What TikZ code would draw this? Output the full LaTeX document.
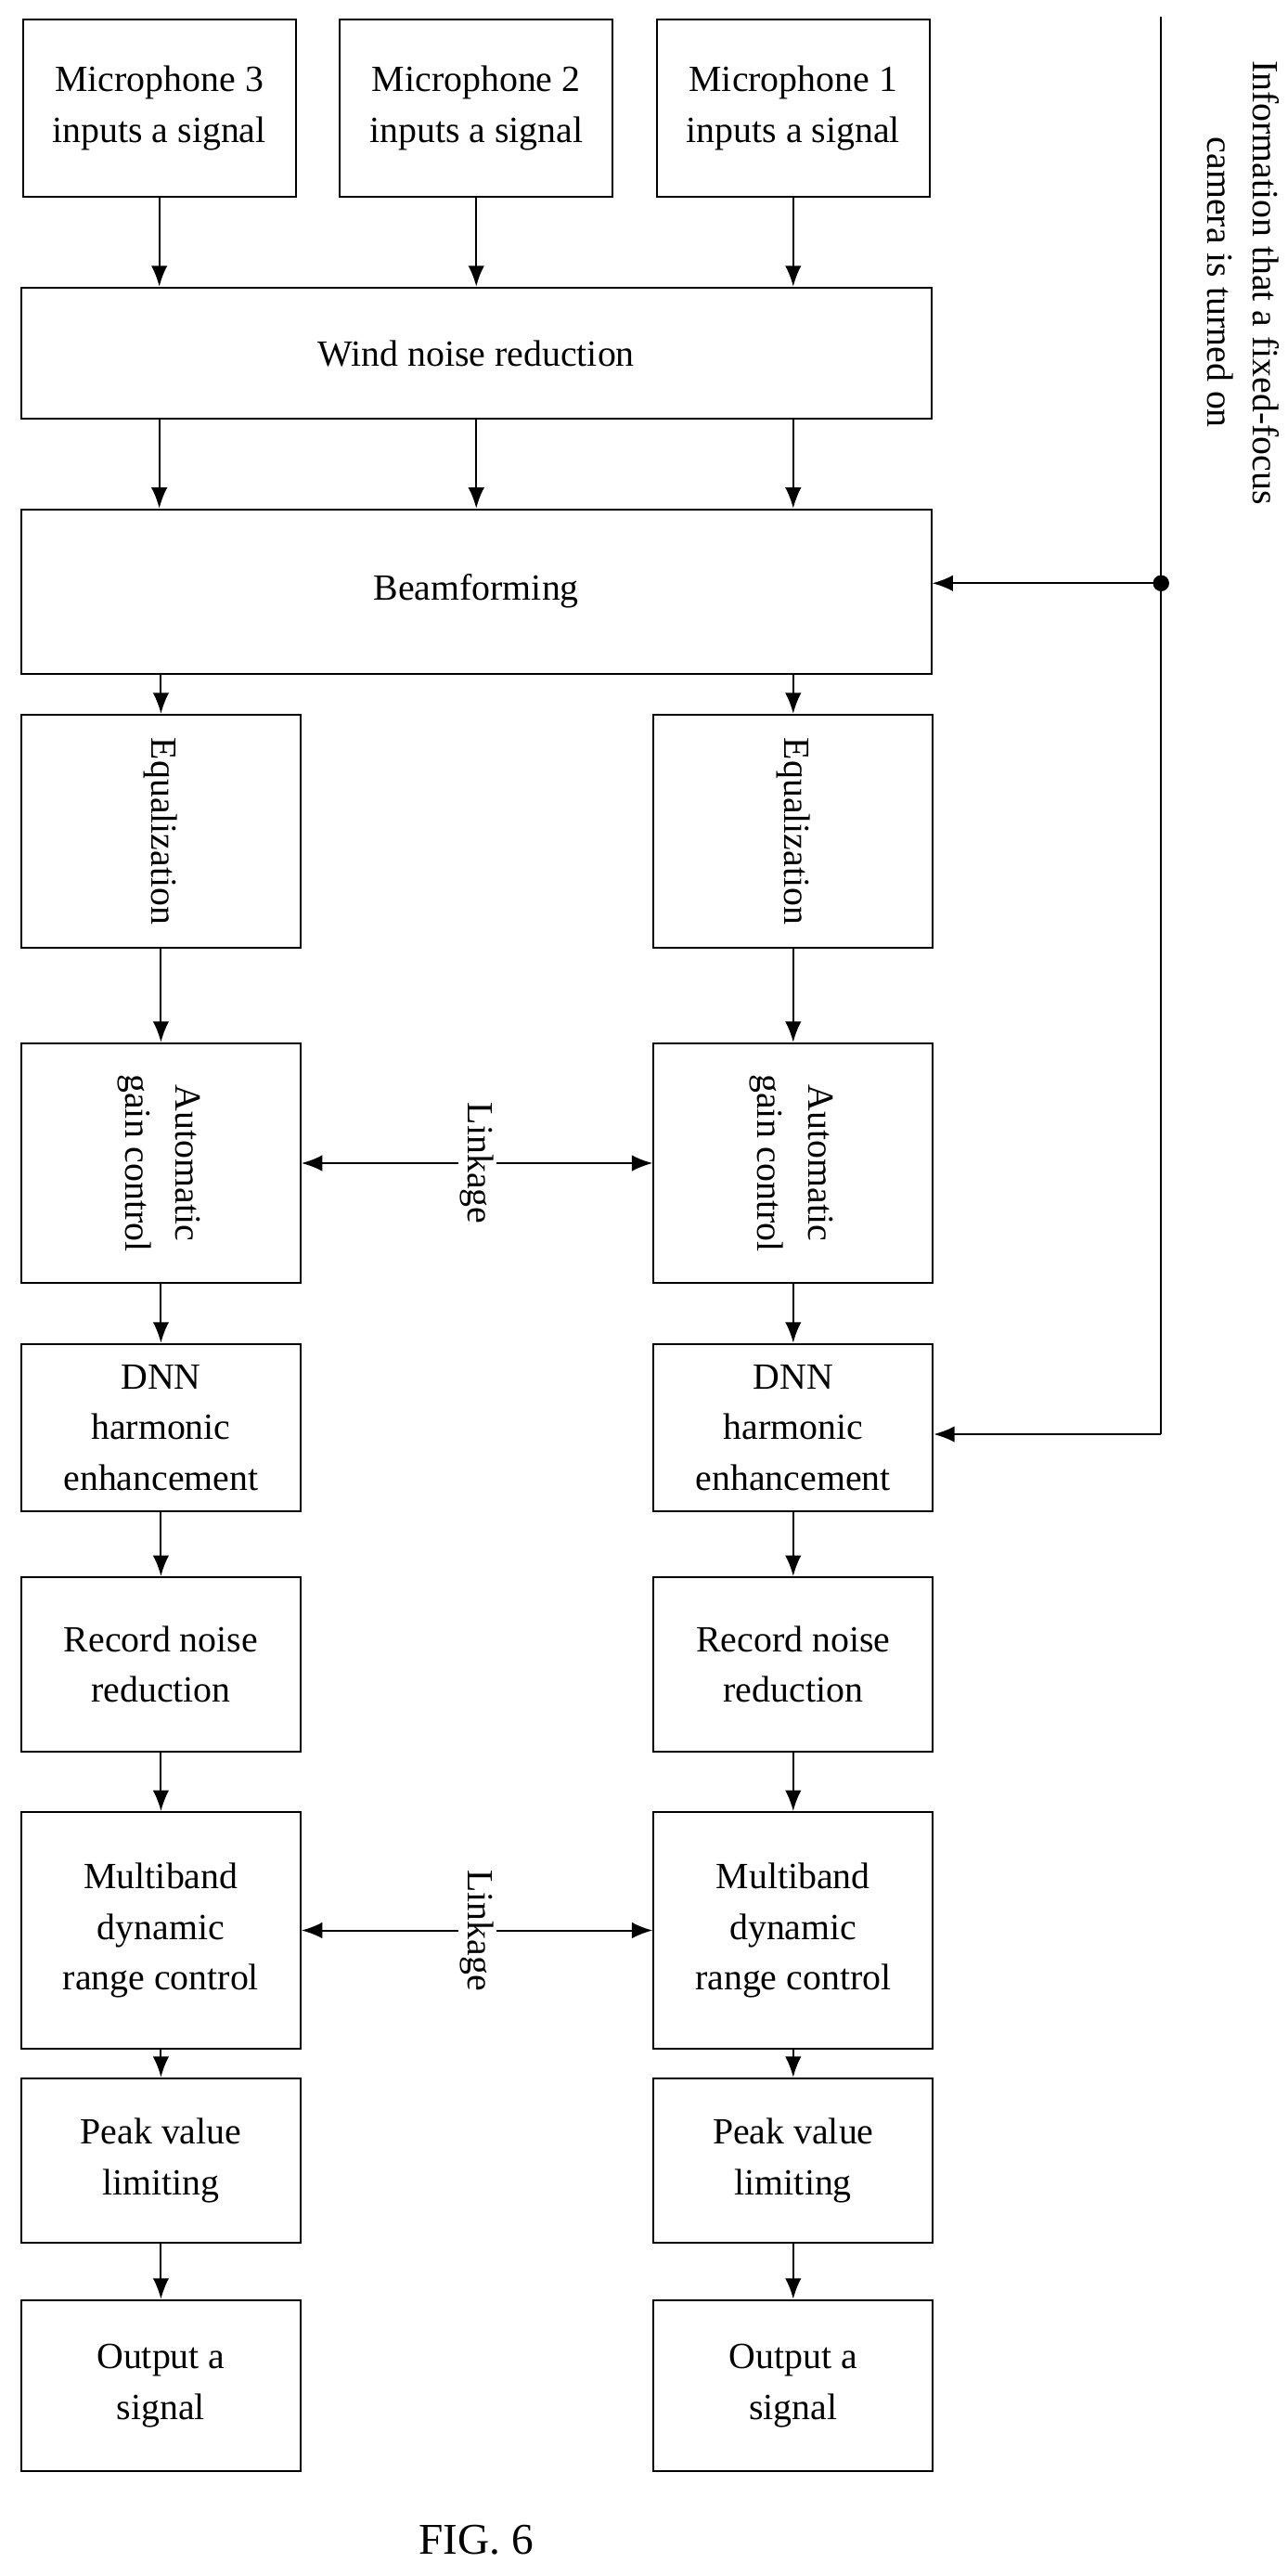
\documentclass[tikz,border=0pt]{standalone}
\usepackage{fontspec}
\setmainfont{Liberation Serif}
\usetikzlibrary{arrows.meta}
\begin{document}
\begin{tikzpicture}[x=0.025cm,y=-0.025cm,
	blk/.style={draw,thick,align=center,inner sep=2pt,font=\fontsize{16}{22}\selectfont},
	arr/.style={thick,-{Latex[length=9pt,width=7pt]}},
	both/.style={thick,{Latex[length=9pt,width=7pt]}-{Latex[length=9pt,width=7pt]}}]
	\useasboundingbox (0,0) rectangle (784,1568);
	% top row
	\node[blk,minimum width=4.15cm,minimum height=2.7cm] (mic3) at (97,66) {Microphone 3\\inputs a signal};
	\node[blk,minimum width=4.15cm,minimum height=2.7cm] (mic2) at (290,66) {Microphone 2\\inputs a signal};
	\node[blk,minimum width=4.15cm,minimum height=2.7cm] (mic1) at (483,66) {Microphone 1\\inputs a signal};
	\node[blk,minimum width=13.85cm,minimum height=2cm] (wind) at (290,215) {Wind noise reduction};
	\node[blk,minimum width=13.85cm,minimum height=2.5cm] (beam) at (290,360) {Beamforming};
	% two columns
	\foreach \s/\cx in {l/98,r/483}{
		\node[blk,minimum width=4.25cm,minimum height=3.55cm] (eq\s) at (\cx,506) {\rotatebox{-90}{Equalization}};
		\node[blk,minimum width=4.25cm,minimum height=3.65cm] (agc\s) at (\cx,708) {\rotatebox{-90}{\begin{tabular}{c}Automatic\\gain control\end{tabular}}};
		\node[blk,minimum width=4.25cm,minimum height=2.55cm] (dnn\s) at (\cx,869) {DNN\\harmonic\\enhancement};
		\node[blk,minimum width=4.25cm,minimum height=2.65cm] (rec\s) at (\cx,1013) {Record noise\\reduction};
		\node[blk,minimum width=4.25cm,minimum height=3.6cm] (mbc\s) at (\cx,1175) {Multiband\\dynamic\\range control};
		\node[blk,minimum width=4.25cm,minimum height=2.5cm] (pk\s) at (\cx,1315) {Peak value\\limiting};
		\node[blk,minimum width=4.25cm,minimum height=2.6cm] (out\s) at (\cx,1452) {Output a\\signal};
		\draw[arr] (beam.south -| eq\s) -- (eq\s);
		\draw[arr] (eq\s) -- (agc\s);
		\draw[arr] (agc\s) -- (dnn\s);
		\draw[arr] (dnn\s) -- (rec\s);
		\draw[arr] (rec\s) -- (mbc\s);
		\draw[arr] (mbc\s) -- (pk\s);
		\draw[arr] (pk\s) -- (out\s);
	}
	\foreach \m in {mic3,mic2,mic1}{
		\draw[arr] (\m) -- (wind.north -| \m);
		\draw[arr] (wind.south -| \m) -- (beam.north -| \m);
	}
	% linkage
	\draw[both] (agcl) -- (agcr) node[midway,fill=white,font=\fontsize{16}{22}\selectfont,inner sep=1pt] (lk1) {\rotatebox{-90}{Linkage}};
	\draw[both] (mbcl) -- (mbcr) node[midway,fill=white,font=\fontsize{16}{22}\selectfont,inner sep=1pt] (lk2) {\rotatebox{-90}{Linkage}};
	% camera information
	\coordinate (top) at (707,10);
	\coordinate (bot) at (707,873);
	\coordinate (dot) at (707,355);
	\draw[thick] (top) -- (bot);
	\fill (dot) circle (3.5pt);
	\draw[arr] (dot) -- (beam.east |- dot);
	\draw[arr] (bot) -- (dnnr.east |- bot);
	\node[font=\fontsize{16}{20}\selectfont,align=center,rotate=-90] (info) at (757,172) {Information that a fixed-focus\\camera is turned on};
	\node[font=\fontsize{19}{22}\selectfont] (fig) at (290,1546) {FIG. 6};
\end{tikzpicture}
\end{document}
